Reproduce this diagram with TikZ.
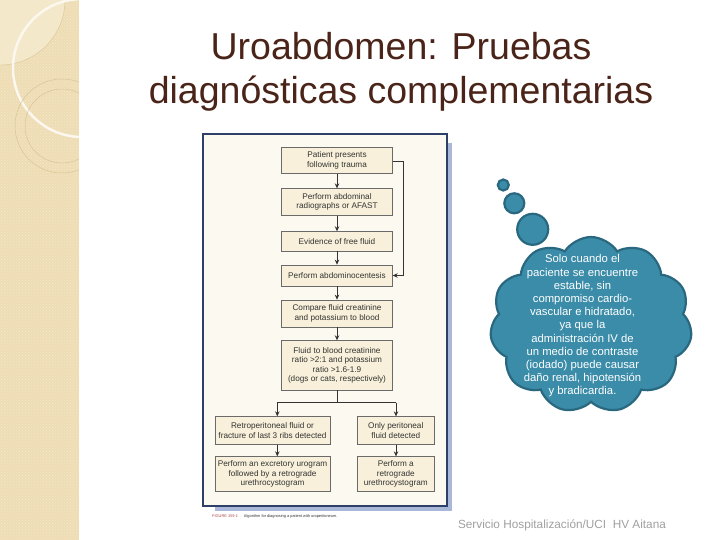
\documentclass[tikz,border=0pt]{standalone}
\usepackage{fontspec}
\setmainfont{Liberation Sans}
\usetikzlibrary{shapes.symbols,patterns,arrows.meta}
\definecolor{stripbg}{HTML}{EEDDB4}
\definecolor{stripdot}{HTML}{F4E8CA}
\definecolor{stripline}{HTML}{D8C497}
\definecolor{titlecol}{HTML}{4A2418}
\definecolor{navy}{HTML}{2F4068}
\definecolor{shadowblue}{HTML}{A9B8D8}
\definecolor{paper}{HTML}{FCFAF0}
\definecolor{boxfill}{HTML}{F8F0DA}
\definecolor{boxline}{HTML}{6A6A6A}
\definecolor{inkgray}{HTML}{333333}
\definecolor{teal}{HTML}{3A8CA8}
\definecolor{tealdark}{HTML}{2A6880}
\definecolor{footgray}{HTML}{A0A0A0}
\definecolor{figred}{HTML}{B04848}
\tikzset{
  fbox/.style={draw=boxline, line width=0.7pt, fill=boxfill, align=center,
    text=inkgray, inner sep=1pt, font=\fontsize{8.2}{9.6}\selectfont},
  flow/.style={draw=inkgray, line width=0.85pt, -{Stealth[length=5pt,width=4.5pt]}},
  flowline/.style={draw=inkgray, line width=0.85pt},
  bubble/.style={fill=teal, draw=tealdark, line width=2.2pt},
}
\begin{document}
\begin{tikzpicture}[x=1pt,y=-1pt]
\useasboundingbox (0,0) rectangle (720,540);
\fill[white] (0,0) rectangle (720,540);
% left decorative strip
\fill[stripbg] (0,0) rectangle (79,540);
\fill[pattern=crosshatch dots, pattern color=stripdot] (0,0) rectangle (79,540);
\begin{scope}
  \clip (0,0) rectangle (79,540);
  \fill[stripdot, draw=stripline, line width=0.4pt] (0,0) circle[radius=65];
  \draw[white!80!stripbg, line width=2.5pt] (82,68) circle[radius=69];
  \draw[stripline, line width=0.5pt] (62,126) circle[radius=47];
  \draw[stripline, line width=0.5pt] (62,126) circle[radius=37];
\end{scope}
% title
\node[text=titlecol, font=\fontsize{37.5}{44}\selectfont, align=center, anchor=base]
  (title) at (401,104) {Uroabdomen: Pruebas\\diagnósticas complementarias};
% figure frame
\fill[shadowblue] (215,143) rectangle (452,511);
\draw[navy, fill=paper, line width=2pt] (203,134) rectangle (447,506);
% flowchart boxes
\node[fbox, minimum width=110.6pt, minimum height=26pt] (b1) at (337,160.3) {Patient presents\\following trauma};
\node[fbox, minimum width=110.6pt, minimum height=26.6pt] (b2) at (337,202) {Perform abdominal\\radiographs or AFAST};
\node[fbox, minimum width=110.6pt, minimum height=19.3pt] (b3) at (337,241.3) {Evidence of free fluid};
\node[fbox, minimum width=110.6pt, minimum height=21pt] (b4) at (337,275.5) {Perform abdominocentesis};
\node[fbox, minimum width=110.6pt, minimum height=27pt] (b5) at (337,313.5) {Compare fluid creatinine\\and potassium to blood};
\node[fbox, minimum width=110.6pt, minimum height=49.3pt] (b6) at (337,365.3) {Fluid to blood creatinine\\ratio >2:1 and potassium\\ratio >1.6-1.9\\(dogs or cats, respectively)};
\node[fbox, minimum width=115pt, minimum height=27.6pt] (b7) at (272.5,430.5) {Retroperitoneal fluid or\\fracture of last 3 ribs detected};
\node[fbox, minimum width=77pt, minimum height=27.6pt] (b8) at (395.8,430.5) {Only peritoneal\\fluid detected};
\node[fbox, minimum width=115pt, minimum height=35pt] (b9) at (272.5,474.2) {Perform an excretory urogram\\followed by a retrograde\\urethrocystogram};
\node[fbox, minimum width=77pt, minimum height=35pt] (b10) at (395.8,474.2) {Perform a\\retrograde\\urethrocystogram};
% connectors
\draw[flow] (b1) -- (b2);
\draw[flow] (b2) -- (b3);
\draw[flow] (b3) -- (b4);
\draw[flow] (b4) -- (b5);
\draw[flow] (b5) -- (b6);
\coordinate (split) at (337,402.7);
\coordinate (splitL) at (277.3,402.7);
\coordinate (splitR) at (396,402.7);
\coordinate (byA) at (403.3,161.7);
\coordinate (byB) at (403.3,275.5);
\draw[flowline] (b6.south) -- (split);
\draw[flowline] (splitL) -- (splitR);
\draw[flow] (splitL) -- (splitL |- b7.north);
\draw[flow] (splitR) -- (splitR |- b8.north);
\draw[flow] (b7.south -| splitL) -- (splitL |- b9.north);
\draw[flow] (b8.south -| splitR) -- (splitR |- b10.north);
\draw[flowline] (b1.east |- byA) -- (byA) -- (byB);
\draw[flow] (byB) -- (b4.east);
% caption
\node[anchor=west, font=\fontsize{3.9}{4.5}\selectfont, inner sep=0pt] (cap) at (212,516.5)
  {\textcolor{figred}{FIGURE 159-1}\hspace{6pt}\textcolor{inkgray}{Algorithm for diagnosing a patient with uroperitoneum.}};
% thought bubbles
\draw[bubble] (503.3,185) circle[radius=5.5];
\draw[bubble] (514.3,203.3) circle[radius=10];
\draw[bubble] (532.7,229.3) circle[radius=15.5];
\node[cloud, cloud puffs=11, cloud puff arc=115, aspect=1.1, bubble,
  minimum width=202pt, minimum height=176pt] (cloud) at (591,325) {};
\node[text=white, align=center, font=\fontsize{11.3}{13.2}\selectfont] (ctext) at (582.5,326)
  {Solo cuando el\\paciente se encuentre\\estable, sin\\compromiso cardio-\\vascular e hidratado,\\ya que la\\administración IV de\\un medio de contraste\\(iodado) puede causar\\daño renal, hipotensión\\y bradicardia.};
% footer
\node[text=footgray, font=\fontsize{11.8}{14}\selectfont, anchor=base] (foot) at (562,528)
  {Servicio Hospitalización/UCI\ \ HV Aitana};
\end{tikzpicture}
\end{document}
